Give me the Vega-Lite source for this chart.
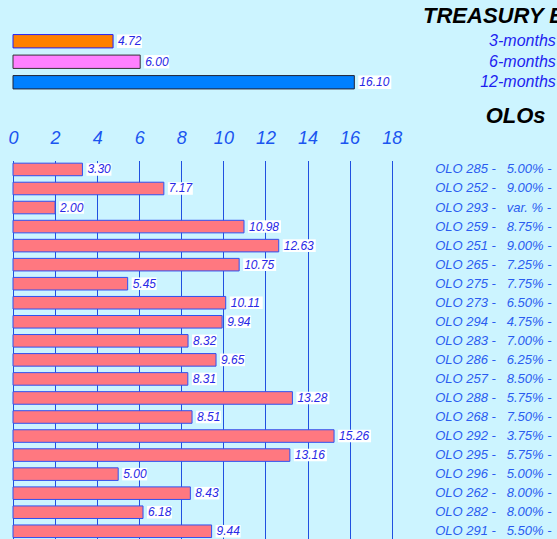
{
  "$schema": "https://vega.github.io/schema/vega-lite/v6.json",
  "background": "#ccf4ff",
  "padding": {"left": 7, "top": 5, "right": 0, "bottom": 0},
  "config": {
    "view": {"stroke": null},
    "font": "Liberation Sans",
    "axis": {"labelFont": "Liberation Sans"},
    "title": {"font": "Liberation Sans"}
  },
  "spacing": 11.5,
  "resolve": {"scale": {"x": "independent", "y": "independent"}},
  "vconcat": [
    {
      "width": 381.6,
      "height": 61.5,
      "title": {"text": "TREASURY BILLS", "anchor": "start", "frame": "group", "dx": 410, "fontSize": 22, "fontStyle": "italic", "fontWeight": "bold", "color": "#000000", "offset": 3},
      "data": {"values": [
        {"term": "3-months", "value": 4.72},
        {"term": "6-months", "value": 6.00},
        {"term": "12-months", "value": 16.10}
      ]},
      "encoding": {
        "y": {"field": "term", "type": "nominal", "sort": null,
          "scale": {"paddingInner": 0.35, "paddingOuter": 0.175},
          "axis": {"orient": "right", "title": null, "ticks": false, "domain": false, "grid": false, "labelAlign": "right", "labelPadding": 160.7, "labelFontSize": 16, "labelFontStyle": "italic", "labelColor": "#1e1ef0"}},
        "x": {"field": "value", "type": "quantitative", "scale": {"domain": [0, 18], "nice": false}, "axis": null}
      },
      "layer": [
        {"mark": {"type": "bar", "strokeWidth": 1},
         "encoding": {
           "fill": {"field": "term", "type": "nominal", "legend": null, "scale": {"domain": ["3-months", "6-months", "12-months"], "range": ["#ff8000", "#ff80ff", "#0080ff"]}},
           "stroke": {"field": "term", "type": "nominal", "legend": null, "scale": {"domain": ["3-months", "6-months", "12-months"], "range": ["#2020ff", "#333333", "#222233"]}}
         }},
        {"mark": {"type": "rect", "fill": "#ffffff", "xOffset": 4, "x2Offset": {"expr": "datum.value >= 10 ? 37 : 29"}},
         "encoding": {"x2": {"field": "value"}}},
        {"mark": {"type": "text", "align": "left", "baseline": "middle", "dx": 5, "fontSize": 12, "fontStyle": "italic", "color": "#2828e6"},
         "encoding": {"text": {"field": "value", "type": "quantitative", "format": ".2f"}}}
      ],
      "resolve": {"scale": {"fill": "independent", "stroke": "independent"}}
    },
    {
      "width": 378.7,
      "height": 379.7,
      "title": {"text": "OLOs", "anchor": "start", "frame": "group", "dx": 472.7, "fontSize": 22, "fontStyle": "italic", "fontWeight": "bold", "color": "#000000", "offset": 2},
      "data": {"values": [
        {"bond": "OLO 285 -\u00a0\u00a0\u00a05.00% -", "value": 3.30},
        {"bond": "OLO 252 -\u00a0\u00a0\u00a09.00% -", "value": 7.17},
        {"bond": "OLO 293 -\u00a0\u00a0\u00a0var. % -", "value": 2.00},
        {"bond": "OLO 259 -\u00a0\u00a0\u00a08.75% -", "value": 10.98},
        {"bond": "OLO 251 -\u00a0\u00a0\u00a09.00% -", "value": 12.63},
        {"bond": "OLO 265 -\u00a0\u00a0\u00a07.25% -", "value": 10.75},
        {"bond": "OLO 275 -\u00a0\u00a0\u00a07.75% -", "value": 5.45},
        {"bond": "OLO 273 -\u00a0\u00a0\u00a06.50% -", "value": 10.11},
        {"bond": "OLO 294 -\u00a0\u00a0\u00a04.75% -", "value": 9.94},
        {"bond": "OLO 283 -\u00a0\u00a0\u00a07.00% -", "value": 8.32},
        {"bond": "OLO 286 -\u00a0\u00a0\u00a06.25% -", "value": 9.65},
        {"bond": "OLO 257 -\u00a0\u00a0\u00a08.50% -", "value": 8.31},
        {"bond": "OLO 288 -\u00a0\u00a0\u00a05.75% -", "value": 13.28},
        {"bond": "OLO 268 -\u00a0\u00a0\u00a07.50% -", "value": 8.51},
        {"bond": "OLO 292 -\u00a0\u00a0\u00a03.75% -", "value": 15.26},
        {"bond": "OLO 295 -\u00a0\u00a0\u00a05.75% -", "value": 13.16},
        {"bond": "OLO 296 -\u00a0\u00a0\u00a05.00% -", "value": 5.00},
        {"bond": "OLO 262 -\u00a0\u00a0\u00a08.00% -", "value": 8.43},
        {"bond": "OLO 282 -\u00a0\u00a0\u00a08.00% -", "value": 6.18},
        {"bond": "OLO 291 -\u00a0\u00a0\u00a05.50% -", "value": 9.44}
      ]},
      "encoding": {
        "y": {"field": "bond", "type": "nominal", "sort": null,
          "scale": {"paddingInner": 0.34, "paddingOuter": 0.14},
          "axis": {"orient": "right", "title": null, "ticks": false, "domain": false, "grid": false, "labelAlign": "left", "labelPadding": 43, "labelFontSize": 13, "labelFontStyle": "italic", "labelColor": "#2a5cf0", "labelLimit": 0}},
        "x": {"field": "value", "type": "quantitative", "scale": {"domain": [0, 18], "nice": false},
          "axis": {"orient": "top", "title": null, "values": [0, 2, 4, 6, 8, 10, 12, 14, 16, 18], "grid": true, "gridColor": "#2050e0", "gridOpacity": 1, "gridWidth": 1, "ticks": false, "domain": false, "labelFontSize": 18, "labelFontStyle": "italic", "labelColor": "#1a55f0", "labelPadding": 13, "labelFlush": false}}
      },
      "layer": [
        {"mark": {"type": "bar", "fill": "#ff7880", "stroke": "#3050f0", "strokeWidth": 1}},
        {"mark": {"type": "rect", "fill": "#ffffff", "xOffset": 4, "x2Offset": {"expr": "datum.value >= 10 ? 37 : 29"}},
         "encoding": {"x2": {"field": "value"}}},
        {"mark": {"type": "text", "align": "left", "baseline": "middle", "dx": 5, "fontSize": 12, "fontStyle": "italic", "color": "#2828e6"},
         "encoding": {"text": {"field": "value", "type": "quantitative", "format": ".2f"}}}
      ]
    }
  ]
}
